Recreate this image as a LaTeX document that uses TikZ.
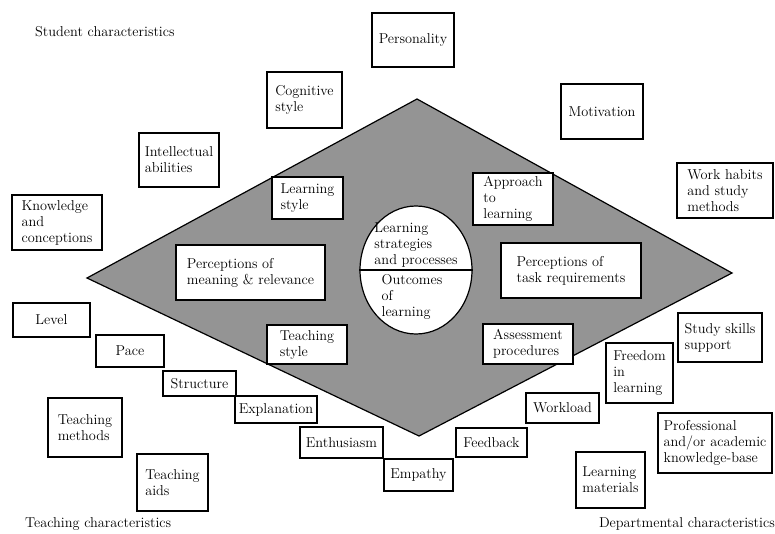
\documentclass[tikz,border=0pt]{standalone}
\usetikzlibrary{shapes.geometric}
\begin{document}
\begin{tikzpicture}[x=1pt,y=-1pt,
  txt/.style={font=\fontsize{14.3}{16}\selectfont},
  box/.style={txt, draw=black, line width=1.1pt, fill=white, inner sep=2pt, align=left},
  lbl/.style={txt, inner sep=0pt}]
\useasboundingbox (0,0) rectangle (775,534);
% diamond
\coordinate (dl) at (87,278);
\coordinate (dt) at (417,99);
\coordinate (dr) at (732,273);
\coordinate (db) at (419,436);
\draw[line width=1.2pt, fill=black!42] (dl) -- (dt) -- (dr) -- (db) -- cycle;
% corner labels
\node[lbl, anchor=west] (studc) at (35,32) {Student characteristics};
\node[lbl, anchor=west] (teachc) at (25,524) {Teaching characteristics};
\node[lbl, anchor=east] (deptc) at (775,524) {Departmental characteristics};
% outer boxes
\node[box, minimum width=82, minimum height=54] (pers) at (413,40) {Personality};
\node[box, minimum width=75, minimum height=56] (cogn) at (304.5,100) {Cognitive\\style};
\node[box, minimum width=82, minimum height=55] (motiv) at (602,111.5) {Motivation};
\node[box, minimum width=96, minimum height=55] (work) at (725,190.5) {Work habits\\and study\\methods};
\node[box, minimum width=80, minimum height=54] (intel) at (179,160) {Intellectual\\abilities};
\node[box, minimum width=90, minimum height=55] (know) at (57,222.5) {Knowledge\\and\\conceptions};
\node[box, minimum width=77, minimum height=34] (level) at (51.5,320) {Level};
\node[box, minimum width=68, minimum height=32] (pace) at (130,351) {Pace};
\node[box, minimum width=73, minimum height=25] (struct) at (199.5,383.5) {Structure};
\node[box, minimum width=82, minimum height=27] (expl) at (276,409.5) {Explanation};
\node[box, minimum width=83, minimum height=31] (enth) at (341.5,442.5) {Enthusiasm};
\node[box, minimum width=69, minimum height=32] (emp) at (418.5,475) {Empathy};
\node[box, minimum width=71, minimum height=29] (feed) at (491.5,442.5) {Feedback};
\node[box, minimum width=73, minimum height=30] (wload) at (562.5,408) {Workload};
\node[box, minimum width=67, minimum height=60] (free) at (639.5,373) {Freedom\\in\\learning};
\node[box, minimum width=84, minimum height=49] (skills) at (720,337.5) {Study skills\\support};
\node[box, minimum width=114, minimum height=60] (prof) at (715,443) {Professional\\and/or academic\\knowledge-base};
\node[box, minimum width=69, minimum height=56] (mat) at (610.5,480) {Learning\\materials};
\node[box, minimum width=74, minimum height=59] (tmeth) at (85,427.5) {Teaching\\methods};
\node[box, minimum width=71, minimum height=57] (taids) at (172.5,482.5) {Teaching\\aids};
% inner boxes
\node[box, minimum width=71, minimum height=42] (lstyle) at (307.5,198) {Learning\\style};
\node[box, minimum width=80, minimum height=52] (appr) at (513,199) {Approach\\to\\learning};
\node[box, minimum width=149, minimum height=55] (mean) at (250.5,272.5) {Perceptions of\\meaning \& relevance};
\node[box, minimum width=140, minimum height=55] (task) at (571,270.5) {Perceptions of\\task requirements};
\node[box, minimum width=80, minimum height=39] (tstyle) at (307,344.5) {Teaching\\style};
\node[box, minimum width=90, minimum height=40] (assess) at (528,344) {Assessment\\procedures};
% central ellipse
\node[ellipse, draw=black, line width=1.2pt, fill=white, minimum width=112, minimum height=128, inner sep=0pt] (core) at (416,270) {};
\draw[line width=1.1pt] (core.west) -- (core.east);
\node[lbl, align=left, anchor=south] (strat) at (416,267) {Learning\\strategies\\and processes};
\node[lbl, align=left, anchor=north] (outc) at (412,274) {Outcomes\\of\\learning};
\end{tikzpicture}
\end{document}
